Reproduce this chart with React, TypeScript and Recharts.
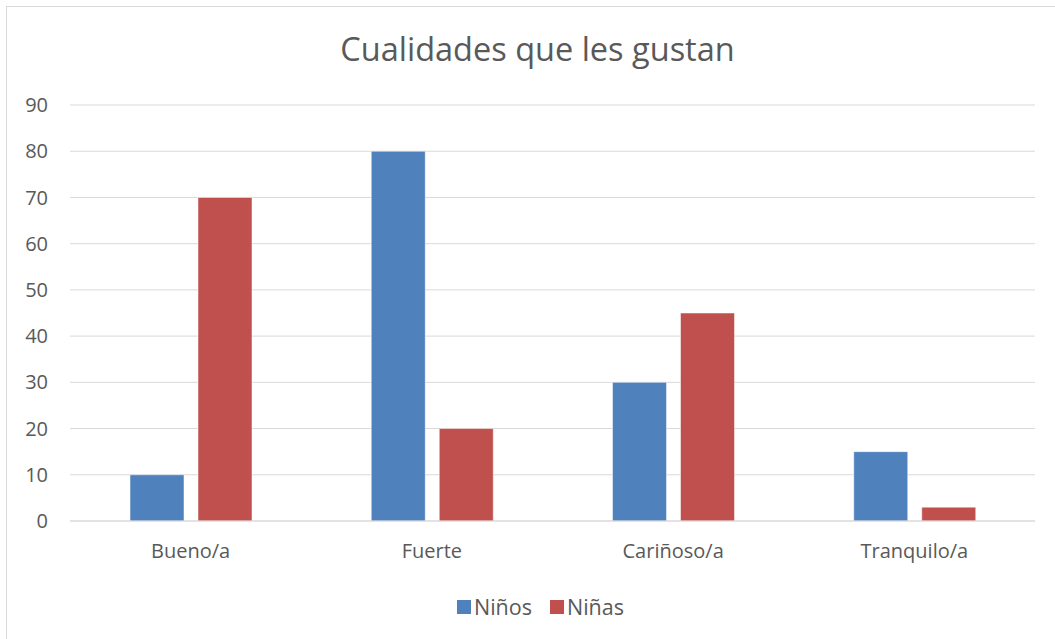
import React from 'react';
import { BarChart, Bar, XAxis, YAxis, CartesianGrid, Legend } from 'recharts';

const categories = ['Bueno/a', 'Fuerte', 'Cariñoso/a', 'Tranquilo/a'];
const ninos = [10, 80, 30, 15];
const ninas = [70, 20, 45, 3];
const yTicks = [0, 10, 20, 30, 40, 50, 60, 70, 80, 90];
const seriesNames = ['Niños', 'Niñas'];
const seriesColors = ['#4f81bd', '#c0504d'];

const chartData = categories.map((name, i) => ({
  name,
  Niños: ninos[i],
  Niñas: ninas[i],
}));

const FONT = '"Open Sans", "Noto Sans", sans-serif';
const TEXT = '#595959';

const renderLegend = () => (
  <div
    style={{
      display: 'flex',
      justifyContent: 'center',
      gap: 18,
      paddingLeft: 38,
      marginTop: -3,
      fontFamily: FONT,
      fontSize: 21.5,
      color: TEXT,
    }}
  >
    {seriesNames.map((name, i) => (
      <span key={name} style={{ display: 'flex', alignItems: 'center', gap: 3 }}>
        <span style={{ width: 14, height: 14, background: seriesColors[i], display: 'inline-block' }}></span>
        {name}
      </span>
    ))}
  </div>
);

export default function App() {
  return (
    <div style={{ position: 'fixed', left: 0, top: 0, width: 1055, height: 639, background: '#fff', overflow: 'hidden' }}>
      {/* outer chart frame */}
      <div style={{ position: 'absolute', left: 6, top: 6, width: 1060, height: 650, border: '1px solid #d9d9d9' }}></div>
      <div
        style={{
          position: 'absolute',
          left: 0,
          top: 26,
          width: 1075,
          textAlign: 'center',
          fontFamily: FONT,
          fontSize: 32.5,
          color: TEXT,
        }}
      >
        Cualidades que les gustan
      </div>
      <div style={{ position: 'absolute', left: 0, top: 0 }}>
        <BarChart
          width={1055}
          height={639}
          data={chartData}
          margin={{ top: 105, right: 20, bottom: 4, left: 8 }}
          barGap={14}
          barSize={54}
        >
          <CartesianGrid vertical={false} stroke="#d9d9d9" strokeWidth={1} />
          <XAxis
            dataKey="name"
            axisLine={{ stroke: '#d9d9d9' }}
            tickLine={false}
            tickMargin={17}
            height={74}
            tick={{ fill: TEXT, fontSize: 20, fontFamily: FONT }}
          />
          <YAxis
            domain={[0, 90]}
            ticks={yTicks}
            width={62}
            axisLine={false}
            tickLine={false}
            tickSize={0}
            tickMargin={22}
            tick={{ fill: TEXT, fontSize: 20, fontFamily: FONT }}
          />
          <Legend verticalAlign="bottom" height={40} content={renderLegend} />
          <Bar dataKey="Niños" fill={seriesColors[0]} stroke="#fff" strokeWidth={0.5} isAnimationActive={false} />
          <Bar dataKey="Niñas" fill={seriesColors[1]} stroke="#fff" strokeWidth={0.5} isAnimationActive={false} />
        </BarChart>
      </div>
    </div>
  );
}
